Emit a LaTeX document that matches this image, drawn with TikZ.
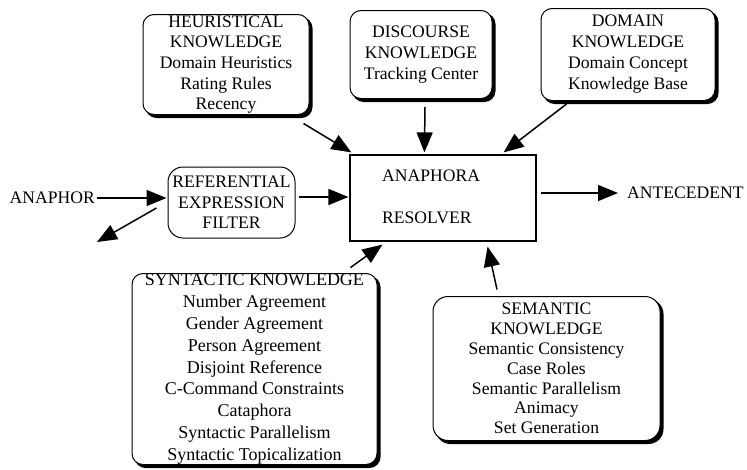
\documentclass[tikz,border=0pt]{standalone}
\usepackage{fontspec}
\setmainfont{Liberation Serif}
\usetikzlibrary{arrows.meta,calc,backgrounds}
\begin{document}
\begin{tikzpicture}[x=1pt,y=-1pt,
  kbox/.style={draw, line width=1pt, rounded corners=11pt, fill=white, align=center, inner sep=0pt},
  shad/.style={fill=black, rounded corners=11pt},
  fs/.style={font=\fontsize{17.6}{#1}\selectfont},
  arr/.style={line width=1.5pt, -{Triangle[length=20pt,width=16pt]}},
  lbl/.style={font=\fontsize{17.6}{20}\selectfont, inner sep=0pt}
]
\useasboundingbox (0,0) rectangle (747,469);

% knowledge boxes
\node[kbox, fs=20.6, minimum width=166pt, minimum height=100pt] (heur) at (226,64.5)
  {HEURISTICAL\\KNOWLEDGE\\Domain Heuristics\\Rating Rules\\Recency};
\node[kbox, fs=21, minimum width=142pt, minimum height=88pt] (disc) at (421,54.5)
  {DISCOURSE\\KNOWLEDGE\\Tracking Center};
\node[kbox, fs=21, minimum width=174pt, minimum height=92pt] (dom) at (628,54.5)
  {DOMAIN\\KNOWLEDGE\\Domain Concept\\Knowledge Base};
\node[kbox, fs=21.8, font=\fontsize{18}{21.8}\selectfont, minimum width=245pt, minimum height=191pt] (syn) at (254.5,369)
  {SYNTACTIC KNOWLEDGE\\Number Agreement\\Gender Agreement\\Person Agreement\\Disjoint Reference\\C-Command Constraints\\Cataphora\\Syntactic Parallelism\\Syntactic Topicalization};
\node[kbox, fs=19.8, minimum width=227pt, minimum height=144pt, rounded corners=15pt] (sem) at (546.5,368.5)
  {SEMANTIC\\KNOWLEDGE\\Semantic Consistency\\Case Roles\\Semantic Parallelism\\Animacy\\Set Generation};

% shadows behind the knowledge boxes
\begin{pgfonlayer}{background}
  \fill[shad] ($(heur.north west)+(3,3)$) rectangle ($(heur.south east)+(3,3)$);
  \fill[shad] ($(disc.north west)+(3,3)$) rectangle ($(disc.south east)+(3,3)$);
  \fill[shad] ($(dom.north west)+(3,3)$) rectangle ($(dom.south east)+(3,3)$);
  \fill[shad] ($(syn.north west)+(3,3)$) rectangle ($(syn.south east)+(3,3)$);
  \fill[shad, rounded corners=15pt] ($(sem.north west)+(3,3)$) rectangle ($(sem.south east)+(3,3)$);
\end{pgfonlayer}

% filter
\node[draw, line width=1pt, rounded corners=15pt, align=center, inner sep=0pt, fs=20.5,
      minimum width=127pt, minimum height=71pt] (ref) at (231.5,202.5)
  {REFERENTIAL\\EXPRESSION\\FILTER};

% resolver
\node[draw, line width=1.2pt, minimum width=186pt, minimum height=86pt, inner sep=0pt] (res) at (443,198) {};
\node[lbl, anchor=west] (resA) at (382,176) {ANAPHORA};
\node[lbl, anchor=west] (resB) at (382,218) {RESOLVER};

% outside labels
\node[lbl, anchor=east] (anaphor) at (95,198) {ANAPHOR};
\node[lbl, anchor=west] (ante) at (627,193) {ANTECEDENT};
\coordinate (out) at (97,242);

% connectors
\draw[arr] ($(anaphor.east)+(2,0)$) -- ($(anaphor.east -| ref.west)+(-1,0)$);
\draw[arr] ($(ref.west)+(-11,5.5)$) -- (out);
\draw[arr] ($(ref.east)+(3,-5.5)$) -- ($(res.west)+(-1,-1)$);
\draw[arr] ($(res.east)+(4,-5)$) -- ($(ante.west)+(-9,0)$);
\draw[arr] ($(heur.south east)+(-6,8.5)$) -- ($(res.north west)+(2,-2)$);
\draw[arr] ($(disc.south)+(4,8)$) -- ($(res.north west)+(75,-2)$);
\draw[arr] ($(dom.south west)+(26,3)$) -- ($(res.north east)+(-33,-2)$);
\draw[arr] ($(syn.north east)+(-27,-5.5)$) -- ($(res.south west)+(33,3)$);
\draw[arr] ($(sem.north)+(-49.5,-6.5)$) -- ($(res.south east)+(-49,5)$);
\end{tikzpicture}
\end{document}
